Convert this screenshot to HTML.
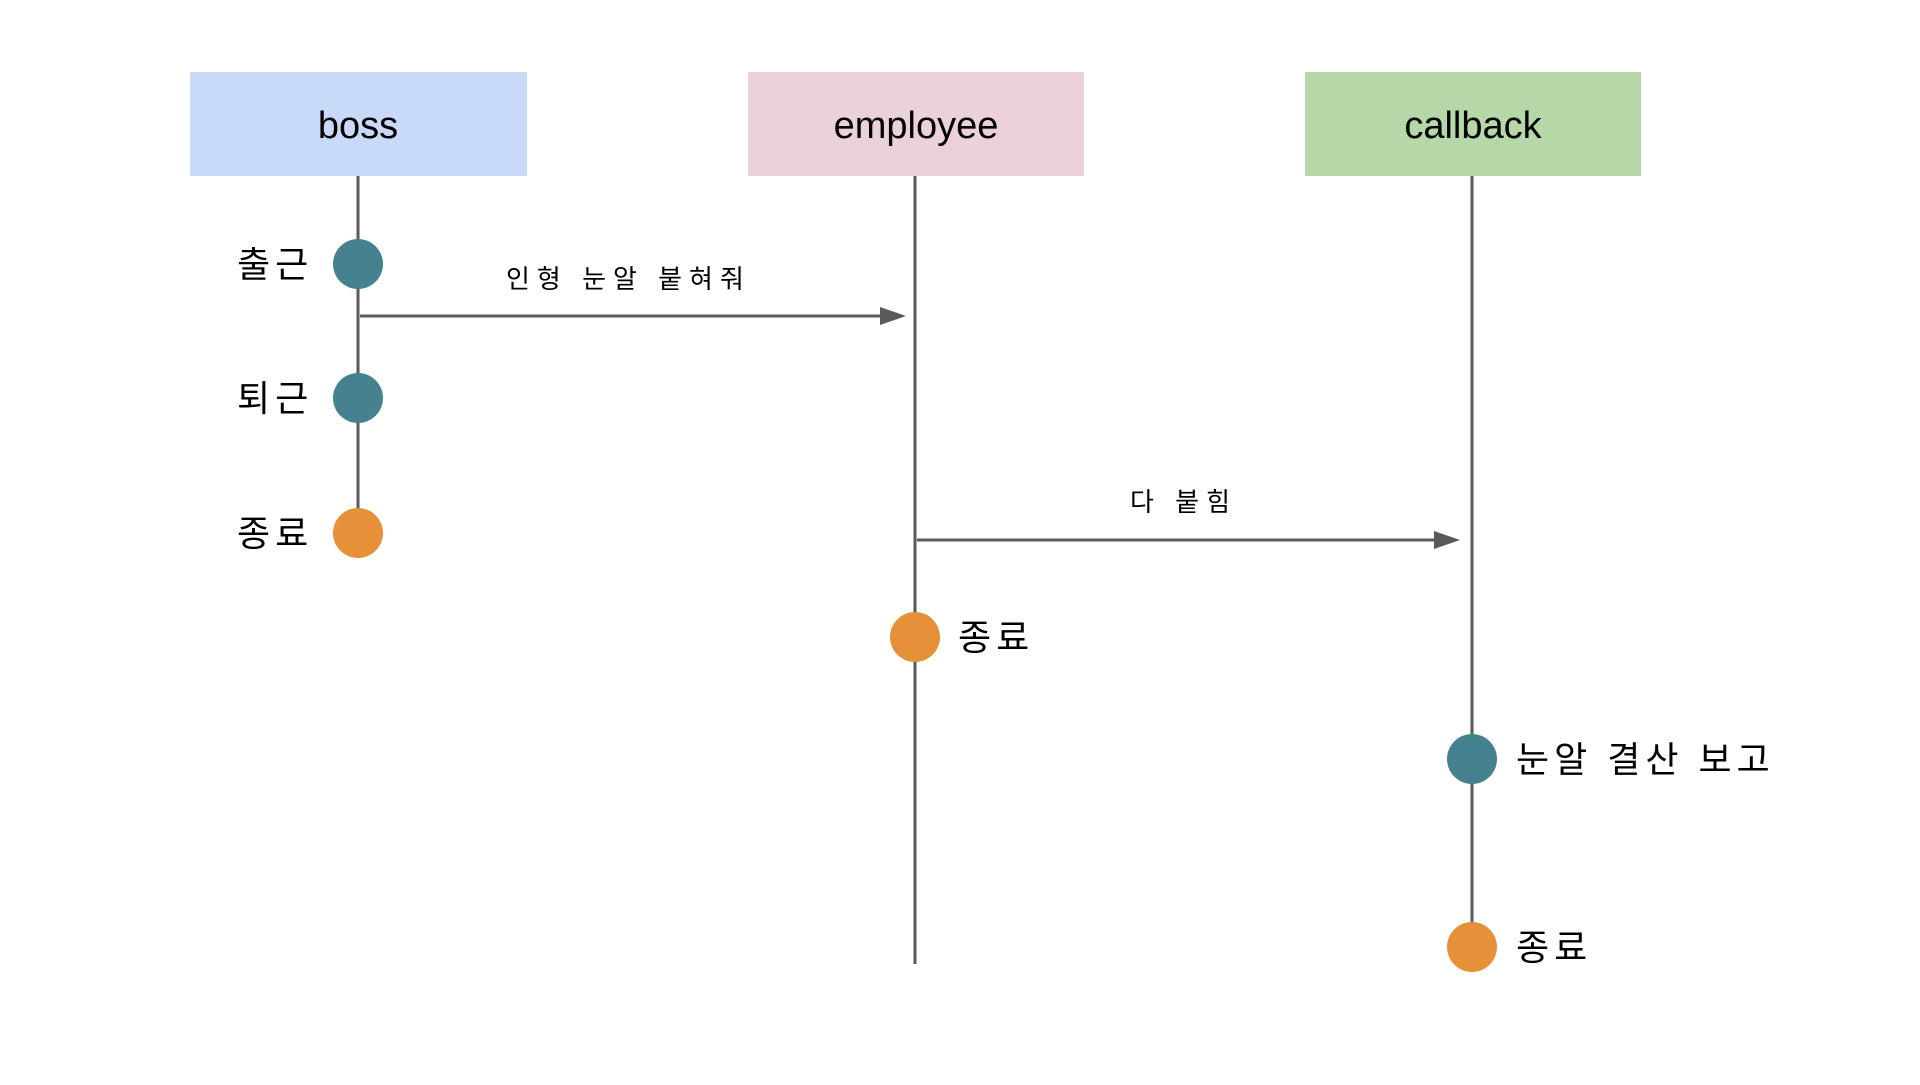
<!DOCTYPE html>
<html><head><meta charset="utf-8"><style>
body{margin:0;background:#fff;}
svg text{font-family:"Liberation Sans","Noto Sans CJK KR","NanumGothic",sans-serif;}
</style></head><body>
<svg width="1920" height="1080" viewBox="0 0 1920 1080" xmlns="http://www.w3.org/2000/svg">
<rect x="190" y="72" width="337" height="104" fill="#c9daf8"/>
<rect x="748" y="72" width="336" height="104" fill="#ead1dc"/>
<rect x="1305" y="72" width="336" height="104" fill="#b6d7a8"/>
<g font-size="38" fill="#000" text-anchor="middle">
<text x="358" y="138">boss</text>
<text x="916" y="138">employee</text>
<text x="1473" y="138">callback</text>
</g>
<g stroke="#595959" stroke-width="3">
<line x1="358" y1="176" x2="358" y2="533"/>
<line x1="915" y1="176" x2="915" y2="964"/>
<line x1="1472" y1="176" x2="1472" y2="947"/>
<line x1="360" y1="316" x2="890" y2="316"/>
<line x1="917" y1="540" x2="1444" y2="540"/>
</g>
<polygon points="880,307 906,316 880,325" fill="#595959"/>
<polygon points="1434,531 1460,540 1434,549" fill="#595959"/>
<g fill="#45818e">
<circle cx="358" cy="264" r="25"/>
<circle cx="358" cy="398" r="25"/>
<circle cx="1472" cy="759" r="25"/>
</g>
<g fill="#e69138">
<circle cx="358" cy="533" r="25"/>
<circle cx="915" cy="637" r="25"/>
<circle cx="1472" cy="947" r="25"/>
</g>
<g font-size="36" fill="#000" letter-spacing="5">
<text x="237" y="277">출근</text>
<text x="237" y="411">퇴근</text>
<text x="237" y="546">종료</text>
<text x="958" y="650">종료</text>
<text x="1516" y="772">눈알 결산 보고</text>
<text x="1516" y="960">종료</text>
</g>
<g font-size="26" fill="#000" letter-spacing="7">
<text x="506" y="288">인형 눈알 붙혀줘</text>
<text x="1130" y="511">다 붙힘</text>
</g>
</svg>
</body></html>
